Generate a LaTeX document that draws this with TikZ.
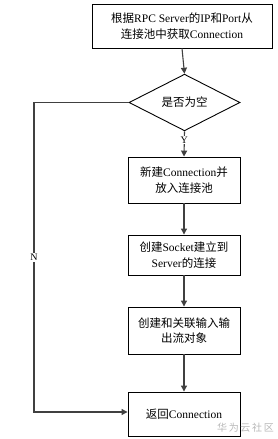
\documentclass[tikz,border=0pt]{standalone}
\usepackage{fontspec}
\setmainfont{Liberation Serif}
\newfontfamily\zhfont{Noto Sans CJK SC}
\newcommand\zh[1]{{\zhfont #1}}
\usetikzlibrary{shapes.geometric,arrows.meta}
\begin{document}
\begin{tikzpicture}[x=1pt,y=-1pt,
  font=\fontsize{11.5}{15.5}\selectfont,
  procbox/.style={draw=black,line width=0.9pt,align=center,inner sep=0pt},
  decide/.style={draw=black,line width=0.9pt,diamond,inner sep=0pt,minimum width=111pt,minimum height=55pt},
  conn/.style={draw=black!75,line width=1.1pt,-{Triangle[length=6pt,width=6pt]}},
  lbl/.style={font=\fontsize{10}{12}\selectfont,inner sep=1pt}]
\useasboundingbox (0,0) rectangle (278,439);
\node[procbox,minimum width=180pt,minimum height=44pt] (get) at (182,26) {\zh{根据}RPC Server\zh{的}IP\zh{和}Port\zh{从}\\\zh{连接池中获取}Connection};
\node[decide] (empty) at (184.5,102.5) {\zh{是否为空}};
\node[procbox,minimum width=112pt,minimum height=46pt] (new) at (184,180) {\zh{新建}Connection\zh{并}\\\zh{放入连接池}};
\node[procbox,minimum width=112pt,minimum height=40pt] (sock) at (184,255) {\zh{创建}Socket\zh{建立到}\\Server\zh{的连接}};
\node[procbox,minimum width=112pt,minimum height=47pt] (io) at (184,330.5) {\zh{创建和关联输入输}\\\zh{出流对象}};
\node[procbox,minimum width=112pt,minimum height=44pt] (ret) at (184,414) {\zh{返回}Connection};
\coordinate (tl) at (34,102.5);
\coordinate (bl) at (34,412);
\draw[conn] (get.south) -- (empty.north);
\draw[conn] (empty.south) -- node[lbl,pos=0.35,fill=white]{Y} (new.north);
\draw[conn] (new.south) -- (sock.north);
\draw[conn] (sock.south) -- (io.north);
\draw[conn] (io.south) -- (ret.north);
\draw[conn] (empty.west) -- (tl) -- node[lbl,pos=0.5,fill=white]{N} (bl) -- (bl -| ret.west);
\node[text=black!28,font=\zhfont\fontsize{10}{12}\selectfont,anchor=east,inner sep=0pt] (wm) at (274,428) {华\,为\,云\,社\,区};
\end{tikzpicture}
\end{document}
